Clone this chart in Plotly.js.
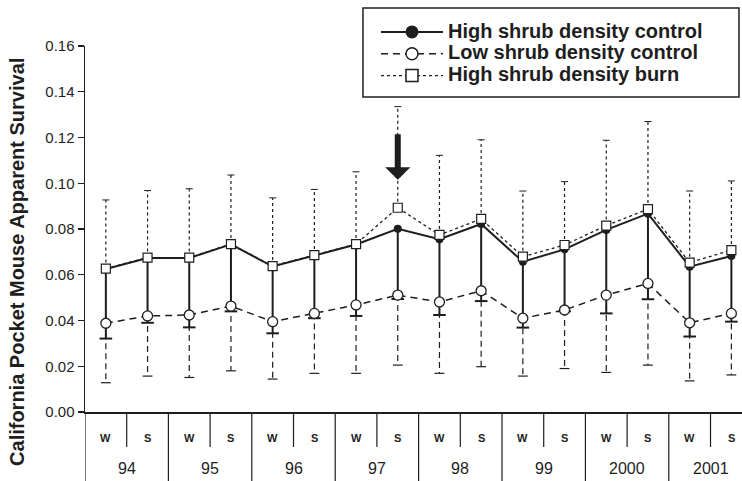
<!DOCTYPE html>
<html><head><meta charset="utf-8">
<script src="https://cdn.plot.ly/plotly-3.0.1.min.js"></script>
<style>html,body{margin:0;padding:0;background:#fff}#chart{width:742px;height:481px}</style>
</head><body><div id="chart"></div>
<script>
// ---- data ----
const years = ['94', '95', '96', '97', '98', '99', '2000', '2001'];
const seasons = ['W', 'S'];
const seriesNames = ['High shrub density control', 'Low shrub density control', 'High shrub density burn'];
const yTitle = 'California Pocket Mouse Apparent Survival';

const highControl      = [0.0625, 0.0673, 0.0673, 0.0733, 0.0636, 0.0684, 0.0732, 0.0801, 0.0755, 0.0822, 0.0657, 0.0711, 0.0796, 0.0867, 0.0635, 0.0682];
const highControlLower = [0.0321, 0.0390, 0.0370, 0.0440, 0.0344, 0.0410, 0.0420, 0.0494, 0.0424, 0.0485, 0.0369, 0.0440, 0.0431, 0.0493, 0.0330, 0.0395];
const lowControl       = [0.0388, 0.0420, 0.0424, 0.0463, 0.0395, 0.0431, 0.0468, 0.0511, 0.0481, 0.0530, 0.0410, 0.0446, 0.0511, 0.0562, 0.0390, 0.0431];
const lowControlLower  = [0.0128, 0.0157, 0.0151, 0.0180, 0.0144, 0.0169, 0.0169, 0.0205, 0.0169, 0.0198, 0.0157, 0.0190, 0.0173, 0.0205, 0.0136, 0.0162];
const highBurn         = [0.0627, 0.0675, 0.0675, 0.0734, 0.0638, 0.0686, 0.0734, 0.0893, 0.0774, 0.0844, 0.0679, 0.0730, 0.0815, 0.0887, 0.0653, 0.0708];
const highBurnUpper    = [0.0927, 0.0968, 0.0976, 0.1036, 0.0936, 0.0973, 0.1050, 0.1335, 0.1122, 0.1190, 0.0966, 0.1007, 0.1188, 0.1270, 0.0966, 0.1010];
const arrowAt = {year: '97', season: 'S', tip: 0.1015};

// ---- build ----
const seasonOf = [], yearOf = [];
years.forEach(y => seasons.forEach(s => { seasonOf.push(s); yearOf.push(y); }));
const idx = seasonOf.map((_, i) => i);
const ink = '#1e1e1e';
const FONT = 'Liberation Sans, Arial, sans-serif';

function segs(a, b) {
  const x = [], y = [];
  idx.forEach(i => { x.push(i, i, null); y.push(a[i], b[i], null); });
  return {x, y};
}
const lowSeg = segs(lowControl, lowControlLower);
const highSeg = segs(highControl, highControlLower);
const burnSeg = segs(highBurn, highBurnUpper);

const base = {hoverinfo: 'skip', showlegend: false, type: 'scatter'};
const traces = [
  Object.assign({}, base, {x: lowSeg.x, y: lowSeg.y, mode: 'lines', line: {color: ink, width: 1.2, dash: '6px,4px'}}),
  Object.assign({}, base, {x: idx, y: lowControlLower, mode: 'markers', marker: {symbol: 'line-ew', size: 7, line: {color: ink, width: 1.2}}}),
  Object.assign({}, base, {x: highSeg.x, y: highSeg.y, mode: 'lines', line: {color: ink, width: 2}}),
  Object.assign({}, base, {x: idx, y: highControlLower, mode: 'markers', marker: {symbol: 'line-ew', size: 9, line: {color: ink, width: 2}}}),
  Object.assign({}, base, {x: burnSeg.x, y: burnSeg.y, mode: 'lines', line: {color: ink, width: 1.2, dash: 'dot'}}),
  Object.assign({}, base, {x: idx, y: highBurnUpper, mode: 'markers', marker: {symbol: 'line-ew', size: 5, line: {color: ink, width: 1}}}),
  Object.assign({}, base, {x: idx, y: lowControl, mode: 'lines+markers',
    line: {color: ink, width: 1.5, dash: '7px,5px'},
    marker: {symbol: 'circle', size: 10, color: '#fff', line: {color: ink, width: 1.3}}}),
  Object.assign({}, base, {x: idx, y: highControl, mode: 'lines+markers',
    line: {color: ink, width: 2},
    marker: {symbol: 'circle', size: 8, color: ink}}),
  Object.assign({}, base, {x: idx, y: highBurn, mode: 'lines+markers',
    line: {color: ink, width: 1.3, dash: 'dot'},
    marker: {symbol: 'square', size: 9, color: '#fff', line: {color: ink, width: 1.2}}}),
];
// legend entries
const legendStyles = [
  {line: {color: ink, width: 2}, marker: {symbol: 'circle', size: 13, color: ink}},
  {line: {color: ink, width: 1.5, dash: '7px,5px'}, marker: {symbol: 'circle', size: 12, color: '#fff', line: {color: ink, width: 1.5}}},
  {line: {color: ink, width: 1.2, dash: 'dot'}, marker: {symbol: 'square', size: 12, color: '#fff', line: {color: ink, width: 1.5}}},
];
seriesNames.forEach((n, k) => {
  traces.push(Object.assign({type: 'scatter', x: [null], y: [null], mode: 'lines+markers', hoverinfo: 'skip', showlegend: true,
    name: '<span style="font-size:20px">' + n + '</span>'}, legendStyles[k]));
});

const annotations = [];
idx.forEach(i => annotations.push({xref: 'x', yref: 'paper', x: i, y: 0, yshift: -26, yanchor: 'middle',
  text: seasonOf[i], showarrow: false, font: {family: FONT, size: 11, weight: 'bold', color: ink}}));
years.forEach((y, k) => annotations.push({xref: 'x', yref: 'paper', x: k * seasons.length + (seasons.length - 1) / 2, y: 0, yshift: -56, yanchor: 'middle',
  text: y, showarrow: false, font: {family: FONT, size: 16, color: ink}}));
annotations.push({xref: 'paper', yref: 'paper', x: -0.1035, y: 0.41, xanchor: 'center', yanchor: 'middle', textangle: -90,
  text: yTitle, showarrow: false, font: {family: FONT, size: 20, weight: 'bold', color: ink}});
const arrowIdx = idx.find(i => yearOf[i] === arrowAt.year && seasonOf[i] === arrowAt.season);
annotations.push({xref: 'x', yref: 'y', x: arrowIdx, y: arrowAt.tip, ax: 0, ay: -47, showarrow: true,
  arrowhead: 1, arrowwidth: 6, arrowsize: 0.7, arrowcolor: ink, text: ''});

const shapes = [];
for (let b = 0; b <= idx.length; b++) {
  const xb = b - 0.5;
  shapes.push({type: 'line', xref: 'x', yref: 'paper', ysizemode: 'pixel', yanchor: 0, x0: xb, x1: xb, y0: 0,
    y1: (b % seasons.length === 0) ? -69 : -35, line: {color: ink, width: 1.2}});
}
// legend frame
shapes.push({type: 'rect', xref: 'paper', yref: 'paper', x0: 0.4231, x1: 0.9954, y0: 0.8607, y1: 1.1038,
  fillcolor: '#fff', line: {color: ink, width: 1.5}, layer: 'above'});

const layout = {
  width: 742, height: 481,
  margin: {l: 85, r: 0, t: 46, b: 69, pad: 0},
  paper_bgcolor: '#fff', plot_bgcolor: '#fff',
  font: {family: FONT, color: ink},
  xaxis: {range: [-0.5, 15.255], showticklabels: false, ticks: '', showgrid: false, zeroline: false,
    showline: true, linecolor: ink, linewidth: 1.5},
  yaxis: {range: [0, 0.16], dtick: 0.02, tickformat: '.2f', ticks: 'outside', ticklen: 6, tickwidth: 1.2, tickcolor: ink,
    showline: true, linecolor: ink, linewidth: 1.5, showgrid: false, zeroline: false,
    tickfont: {family: FONT, size: 15, color: ink}},
  showlegend: true,
  legend: {x: 0.4429, y: 1.082, xanchor: 'left', yanchor: 'top', bgcolor: 'rgba(0,0,0,0)', borderwidth: 0,
    font: {family: FONT, size: 14.5, weight: 'bold', color: ink}, itemwidth: 62, tracegroupgap: 0},
  annotations: annotations,
  shapes: shapes,
};
Plotly.newPlot('chart', traces, layout, {displayModeBar: false, staticPlot: true});
</script></body></html>
